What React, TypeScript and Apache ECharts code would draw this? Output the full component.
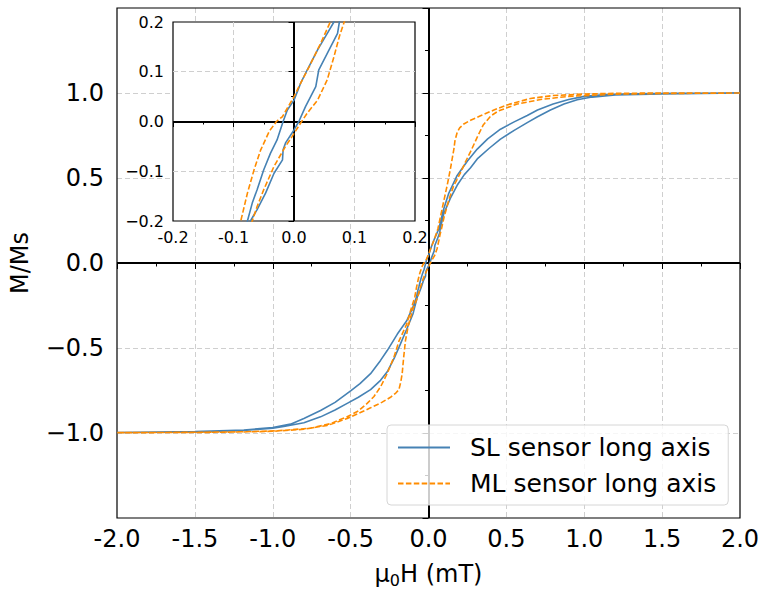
import React, { useEffect, useRef } from 'react';
import * as echarts from 'echarts';

// SL sensor (solid blue): descending branch (+2 -> -2) and ascending branch (-2 -> +2)
const slDescending: number[][] = [
  [2.0, 1.0], [1.6, 0.998], [1.3, 0.995], [1.1, 0.988], [1.0, 0.98], [0.9, 0.962],
  [0.8, 0.935], [0.7, 0.9], [0.634, 0.868], [0.55, 0.83], [0.462, 0.787], [0.38, 0.73],
  [0.313, 0.67], [0.25, 0.6], [0.184, 0.515], [0.13, 0.41], [0.095, 0.31], [0.066, 0.2],
  [0.055, 0.177], [0.039, 0.144], [0.022, 0.104], [0.011, 0.077], [0.0, 0.043],
  [-0.011, 0.023], [-0.018, 0.0], [-0.028, -0.037], [-0.039, -0.064], [-0.05, -0.097],
  [-0.061, -0.137], [-0.069, -0.164], [-0.077, -0.2], [-0.1, -0.26], [-0.14, -0.34],
  [-0.2, -0.418], [-0.265, -0.515], [-0.308, -0.573], [-0.372, -0.651], [-0.44, -0.71],
  [-0.5, -0.752], [-0.6, -0.82], [-0.693, -0.868], [-0.8, -0.915], [-0.886, -0.948],
  [-1.0, -0.968], [-1.186, -0.982], [-1.5, -0.991], [-2.0, -0.997],
];
const slAscending: number[][] = [
  [-2.0, -1.0], [-1.5, -0.994], [-1.186, -0.985], [-1.0, -0.972], [-0.929, -0.962],
  [-0.8, -0.94], [-0.693, -0.905], [-0.6, -0.865], [-0.522, -0.826], [-0.45, -0.79],
  [-0.372, -0.745], [-0.308, -0.69], [-0.265, -0.64], [-0.22, -0.56], [-0.18, -0.476],
  [-0.14, -0.39], [-0.1, -0.3], [-0.072, -0.2], [-0.061, -0.177], [-0.047, -0.144],
  [-0.033, -0.104], [-0.019, -0.077], [-0.018, -0.057], [-0.014, -0.043], [0.0, -0.017],
  [0.008, 0.0], [0.019, 0.03], [0.036, 0.07], [0.041, 0.104], [0.055, 0.137],
  [0.072, 0.177], [0.075, 0.2], [0.098, 0.29], [0.14, 0.38], [0.184, 0.457],
  [0.23, 0.52], [0.27, 0.56], [0.313, 0.612], [0.39, 0.675], [0.462, 0.729],
  [0.55, 0.78], [0.634, 0.826], [0.7, 0.86], [0.783, 0.9], [0.87, 0.935],
  [0.955, 0.96], [1.05, 0.976], [1.2, 0.988], [1.5, 0.995], [2.0, 1.0],
];

// ML sensor (dashed orange)
const mlDescending: number[][] = [
  [2.0, 1.0], [1.5, 1.0], [1.2, 0.998], [1.0, 0.994], [0.8, 0.985], [0.655, 0.968],
  [0.505, 0.93], [0.42, 0.9], [0.334, 0.866], [0.27, 0.84], [0.227, 0.818], [0.2, 0.795],
  [0.184, 0.768], [0.17, 0.72], [0.163, 0.67], [0.14, 0.55], [0.12, 0.457], [0.09, 0.33],
  [0.06, 0.2], [0.044, 0.157], [0.025, 0.11], [0.011, 0.077], [0.0, 0.05],
  [-0.019, 0.01], [-0.029, 0.0], [-0.041, -0.02], [-0.055, -0.057], [-0.066, -0.097],
  [-0.077, -0.144], [-0.088, -0.2], [-0.115, -0.28], [-0.14, -0.36], [-0.19, -0.46],
  [-0.222, -0.554], [-0.265, -0.65], [-0.308, -0.729], [-0.35, -0.785], [-0.394, -0.826],
  [-0.45, -0.87], [-0.522, -0.904], [-0.629, -0.945], [-0.758, -0.972], [-0.97, -0.987],
  [-1.2, -0.993], [-1.5, -0.996], [-2.0, -0.998],
];
const mlAscending: number[][] = [
  [-2.0, -1.0], [-1.5, -0.997], [-1.2, -0.994], [-1.0, -0.99], [-0.8, -0.978],
  [-0.65, -0.955], [-0.522, -0.915], [-0.45, -0.885], [-0.372, -0.852], [-0.3, -0.82],
  [-0.244, -0.79], [-0.21, -0.765], [-0.19, -0.745], [-0.178, -0.7], [-0.169, -0.651],
  [-0.16, -0.56], [-0.148, -0.457], [-0.13, -0.37], [-0.1, -0.27], [-0.069, -0.2],
  [-0.061, -0.171], [-0.05, -0.137], [-0.033, -0.09], [-0.014, -0.05], [-0.003, -0.03],
  [0.011, -0.003], [0.022, 0.017], [0.039, 0.043], [0.055, 0.084], [0.066, 0.13],
  [0.075, 0.171], [0.083, 0.2], [0.1, 0.27], [0.13, 0.37], [0.16, 0.45], [0.205, 0.53],
  [0.24, 0.6], [0.27, 0.655], [0.313, 0.74], [0.35, 0.81], [0.4, 0.865], [0.45, 0.895],
  [0.57, 0.935], [0.72, 0.962], [0.9, 0.98], [1.2, 0.993], [1.5, 0.997], [2.0, 1.0],
];

const seriesNames = ['SL sensor long axis', 'ML sensor long axis'];
const xAxisTitle = '{a|μ}{b|0}{a|H (mT)}';
const yAxisTitle = 'M/Ms';

const FONT = 'DejaVu Sans';
const BLUE = '#4682b4';
const ORANGE = '#ff8c00';
const GRID_COLOR = '#cfcfcf';

const fmtHyphen = (v: number) => (Math.abs(v) < 1e-9 ? 0 : v).toFixed(1);
const fmtMinus = (v: number) => fmtHyphen(v).replace('-', '\u2212');

export default function App() {
  const ref = useRef<HTMLDivElement>(null);
  useEffect(() => {
    if (!ref.current) return;
    const chart = echarts.init(ref.current, undefined, { renderer: 'svg' });
    const slData = [...slDescending, ...slAscending];
    const mlData = [...mlDescending, ...mlAscending];
    const zeroLines = (z: number) => ({
      silent: true,
      symbol: ['none', 'none'],
      label: { show: false },
      emphasis: { disabled: true },
      lineStyle: { color: '#000', width: 2, type: 'solid' },
      data: [{ xAxis: 0 }, { yAxis: 0 }],
      z,
    });
    const splitLine = {
      show: true,
      showMinLine: false,
      showMaxLine: false,
      lineStyle: { color: GRID_COLOR, type: [5, 3], width: 1 },
    };
    const mainTick = { show: true, length: 6, lineStyle: { color: '#000', width: 1 } };
    const mainMinor = { show: true, splitNumber: 2, length: 3.5, lineStyle: { color: '#000', width: 1 } };
    const insetTick = { show: true, length: 5.5, lineStyle: { color: '#000' } };
    const insetMinor = { show: true, splitNumber: 2, length: 3, lineStyle: { color: '#000' } };

    chart.setOption({
      animation: false,
      grid: [
        { left: 117, top: 8, width: 623, height: 513, show: true, borderColor: '#000', borderWidth: 1.2, backgroundColor: 'transparent', z: 1 },
        { left: 173, top: 22, width: 242, height: 199, show: true, borderColor: '#000', borderWidth: 1.2, backgroundColor: '#ffffff', z: 5 },
      ],
      xAxis: [
        {
          type: 'value', gridIndex: 0, min: -2, max: 2, interval: 0.5,
          axisLine: { show: false }, axisTick: mainTick, minorTick: mainMinor, splitLine,
          axisLabel: { fontSize: 24, color: '#000', fontFamily: FONT, margin: 9, formatter: fmtHyphen },
          name: xAxisTitle, nameLocation: 'middle', nameGap: 42,
          nameTextStyle: {
            fontFamily: FONT, fontSize: 24, color: '#000',
            rich: {
              a: { fontFamily: FONT, fontSize: 24, color: '#000' },
              b: { fontFamily: FONT, fontSize: 16, color: '#000', padding: [12, 0, 0, 0] },
            },
          },
        },
        {
          type: 'value', gridIndex: 1, min: -0.2, max: 0.2, interval: 0.1, z: 6,
          axisLine: { show: false }, axisTick: insetTick, minorTick: insetMinor, splitLine,
          axisLabel: { fontSize: 16, color: '#000', fontFamily: FONT, margin: 8, formatter: fmtHyphen },
        },
      ],
      yAxis: [
        {
          type: 'value', gridIndex: 0, min: -1.5, max: 1.5, interval: 0.5,
          axisLine: { show: false }, axisTick: mainTick, minorTick: mainMinor, splitLine,
          axisLabel: {
            fontSize: 24, color: '#000', fontFamily: FONT, margin: 13,
            formatter: (v: number) => (Math.abs(v) > 1.25 ? '' : fmtMinus(v)),
          },
          name: yAxisTitle, nameLocation: 'middle', nameGap: 85,
          nameTextStyle: { fontFamily: FONT, fontSize: 24, color: '#000' },
        },
        {
          type: 'value', gridIndex: 1, min: -0.2, max: 0.2, interval: 0.1, z: 6,
          axisLine: { show: false }, axisTick: insetTick, minorTick: insetMinor, splitLine,
          axisLabel: { fontSize: 16, color: '#000', fontFamily: FONT, margin: 9, formatter: fmtMinus },
        },
      ],
      legend: {
        show: true,
        orient: 'vertical',
        left: 387,
        top: 425,
        padding: [10, 12, 9, 10],
        itemWidth: 52,
        itemHeight: 28,
        itemGap: 11,
        selectedMode: false,
        backgroundColor: 'rgba(255,255,255,0.8)',
        borderColor: '#d6d6d6',
        borderWidth: 1,
        borderRadius: 4,
        itemStyle: { color: 'transparent', borderWidth: 0, opacity: 0 },
        textStyle: { fontSize: 25, color: '#000', fontFamily: FONT, padding: [0, 0, 0, 15] },
        data: seriesNames,
      },
      series: [
        {
          type: 'line', name: seriesNames[0], xAxisIndex: 0, yAxisIndex: 0, data: slData,
          symbol: 'none', showSymbol: false, clip: true, z: 2,
          lineStyle: { color: BLUE, width: 1.6, type: 'solid' }, itemStyle: { color: BLUE },
          markLine: zeroLines(2),
        },
        {
          type: 'line', name: seriesNames[1], xAxisIndex: 0, yAxisIndex: 0, data: mlData,
          symbol: 'none', showSymbol: false, clip: true, z: 2,
          lineStyle: { color: ORANGE, width: 1.6, type: [5.5, 2.4] }, itemStyle: { color: ORANGE },
        },
        {
          type: 'line', name: seriesNames[0], xAxisIndex: 1, yAxisIndex: 1, data: slData,
          symbol: 'none', showSymbol: false, clip: true, z: 7,
          lineStyle: { color: BLUE, width: 1.6, type: 'solid' }, itemStyle: { color: BLUE },
          markLine: zeroLines(7),
        },
        {
          type: 'line', name: seriesNames[1], xAxisIndex: 1, yAxisIndex: 1, data: mlData,
          symbol: 'none', showSymbol: false, clip: true, z: 7,
          lineStyle: { color: ORANGE, width: 1.6, type: [5.5, 2.4] }, itemStyle: { color: ORANGE },
        },
      ],
    });
    return () => chart.dispose();
  }, []);
  return <div ref={ref} style={{ position: 'absolute', left: 0, top: 0, width: 763, height: 593 }} />;
}
